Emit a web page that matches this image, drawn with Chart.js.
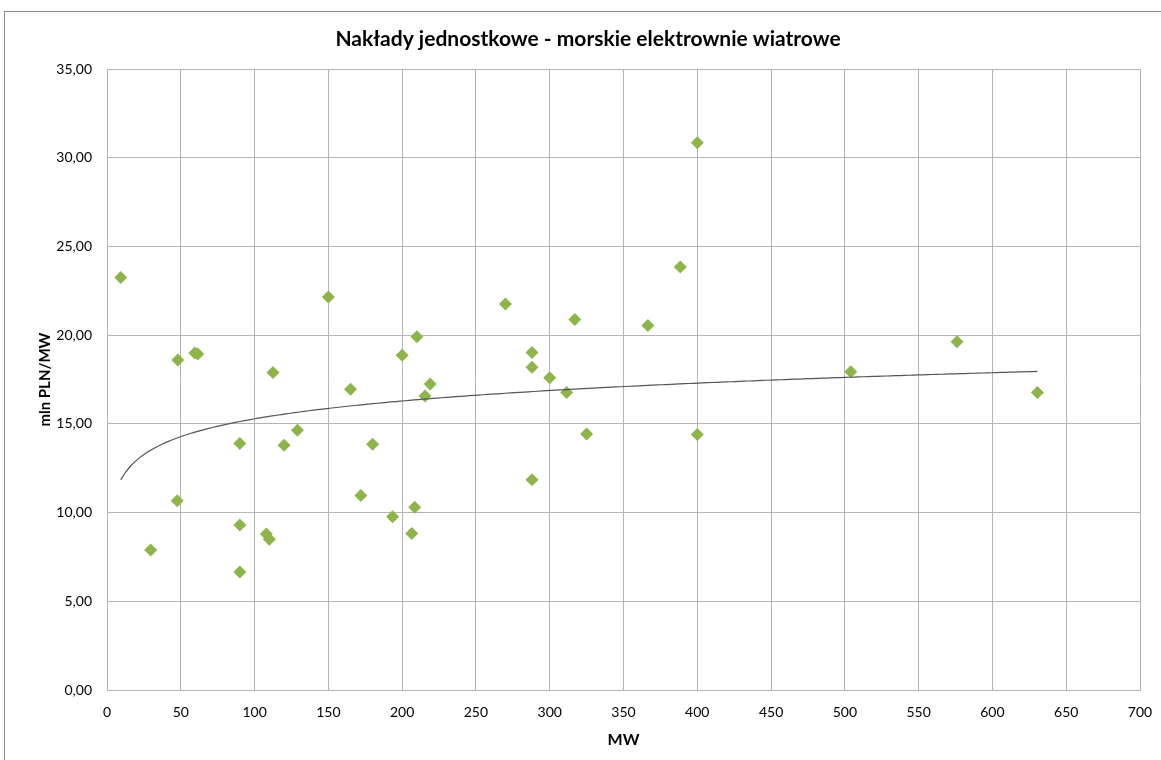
<!DOCTYPE html>
<html>
<head>
<meta charset="utf-8">
<script src="https://cdn.jsdelivr.net/npm/chart.js@4"></script>
<style>
  html, body { margin: 0; padding: 0; background: #fff; }
  #frame { position: absolute; left: 4px; top: 11px; width: 1200px; height: 800px; border: 1px solid #8c8c8c; }
  #wrap { position: absolute; left: 0; top: 0; width: 1161px; height: 760px; }
</style>
</head>
<body>
<div id="frame"></div>
<div id="wrap"><canvas id="chart" width="1161" height="760"></canvas></div>
<script>
// installed capacity of the farm (MW)
const mwValues = [9.3, 29.6, 48, 47.6, 59.5, 61.5, 90, 90, 90, 108, 110, 112.5, 120, 129, 150, 165, 172, 180,
  193.5, 200, 206.5, 208.5, 210, 215.5, 219, 270, 288, 288, 288, 300, 311.5, 317, 325, 366.5, 388.5, 400, 400,
  504, 576, 630.5];
// unit investment cost (mln PLN / MW)
const costValues = [23.26, 7.89, 18.6, 10.67, 19.0, 18.95, 13.9, 9.3, 6.65, 8.8, 8.5, 17.9, 13.8, 14.65, 22.15,
  16.95, 10.97, 13.85, 9.77, 18.87, 8.83, 10.3, 19.92, 16.57, 17.25, 21.76, 19.03, 18.2, 11.85, 17.6, 16.77, 20.89,
  14.44, 20.55, 23.85, 30.85, 14.4, 17.94, 19.63, 16.77];

const xTicks = [0, 50, 100, 150, 200, 250, 300, 350, 400, 450, 500, 550, 600, 650, 700];
const yTicks = [0, 5, 10, 15, 20, 25, 30, 35];

const points = mwValues.map((x, i) => ({ x: x, y: costValues[i] }));

// logarithmic trend line (least squares of y on ln x), like Excel's trendline
const lnX = mwValues.map(v => Math.log(v));
const n = lnX.length;
const mLn = lnX.reduce((a, b) => a + b, 0) / n;
const mY = costValues.reduce((a, b) => a + b, 0) / n;
let sxy = 0, sxx = 0;
lnX.forEach((l, i) => { sxy += (l - mLn) * (costValues[i] - mY); sxx += (l - mLn) * (l - mLn); });
const slope = sxy / sxx;
const intercept = mY - slope * mLn;
const xMin = Math.min(...mwValues), xMax = Math.max(...mwValues);
const trend = [];
for (let i = 0; i <= 200; i++) {
  const x = xMin + (xMax - xMin) * i / 200;
  trend.push({ x: x, y: intercept + slope * Math.log(x) });
}

const gridColor = '#b4b4b4';
const font = 'Lato, "Open Sans", sans-serif';

new Chart(document.getElementById('chart').getContext('2d'), {
  type: 'scatter',
  data: {
    datasets: [{
      label: 'Nakłady',
      data: points,
      pointStyle: 'rectRot',
      pointRadius: 6.5,
      pointBackgroundColor: '#8db54a',
      pointBorderColor: '#8db54a',
      pointBorderWidth: 0,
      order: 1
    }, {
      label: 'Trend',
      type: 'line',
      data: trend,
      borderColor: '#555555',
      borderWidth: 1.2,
      pointRadius: 0,
      tension: 0,
      fill: false,
      order: 0
    }]
  },
  options: {
    responsive: false,
    animation: false,
    layout: { padding: { left: 36, right: 21, top: 0, bottom: 11 } },
    plugins: {
      legend: { display: false },
      tooltip: { enabled: false },
      title: {
        display: true,
        text: 'Nakłady jednostkowe - morskie elektrownie wiatrowe',
        color: '#000',
        font: { family: font, size: 21, weight: 'bold' },
        padding: { top: 27, bottom: 17 }
      }
    },
    scales: {
      x: {
        type: 'linear',
        min: 0, max: 700,
        afterBuildTicks: s => { s.ticks = xTicks.map(v => ({ value: v })); },
        afterFit: s => { s.height = 59; s.paddingLeft = 0; s.paddingRight = 0; },
        grid: { color: gridColor, drawTicks: false },
        border: { color: gridColor },
        ticks: { color: '#000', padding: 14, font: { family: font, size: 14 }, maxRotation: 0 },
        title: { display: true, text: 'MW', color: '#000', font: { family: font, size: 16, weight: 'bold' }, padding: 0 }
      },
      y: {
        type: 'linear',
        min: 0, max: 35,
        afterBuildTicks: s => { s.ticks = yTicks.map(v => ({ value: v })); },
        afterFit: s => { s.width = 71; },
        grid: { color: gridColor, drawTicks: false },
        border: { color: gridColor },
        ticks: {
          color: '#000', padding: 15, font: { family: font, size: 14 },
          callback: v => v.toFixed(2).replace('.', ',')
        },
        title: { display: true, text: 'mln PLN/MW', color: '#000', font: { family: font, size: 15, weight: 'bold' }, padding: 0 }
      }
    }
  }
});
</script>
</body>
</html>
